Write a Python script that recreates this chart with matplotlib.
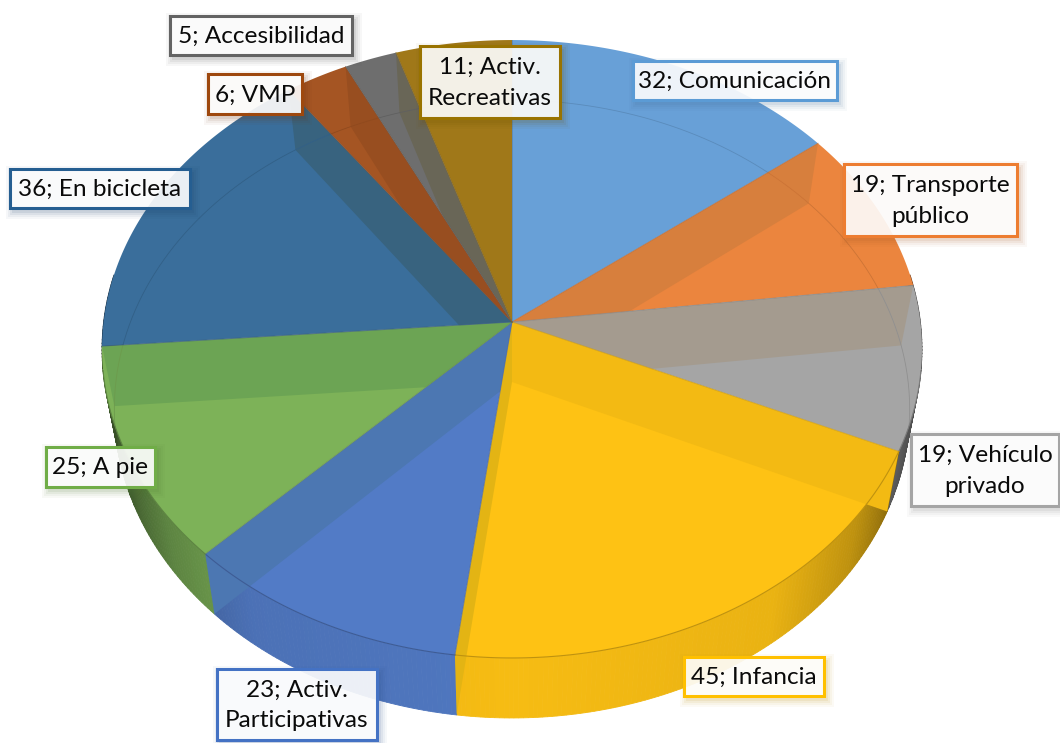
import numpy as np
import matplotlib
matplotlib.use('Agg')
import matplotlib.pyplot as plt
from matplotlib.patches import Polygon, Rectangle

plt.rcParams['font.family'] = ['Lato', 'DejaVu Sans']

values = [32, 19, 19, 45, 23, 25, 36, 6, 5, 11]
labels = ['32; Comunicación', '19; Transporte\npúblico', '19; Vehículo\nprivado',
          '45; Infancia', '23; Activ.\nParticipativas', '25; A pie',
          '36; En bicicleta', '6; VMP', '5; Accesibilidad', '11; Activ.\nRecreativas']
face_colors = ['#68a0d7', '#eb853e', '#a5a5a5', '#fec214', '#527bc6',
               '#7db258', '#3a6e9b', '#a55523', '#6e6e6e', '#a07819']
edge_colors = ['#5b9bd5', '#ed7d31', '#a5a5a5', '#ffc000', '#4472c4',
               '#70ad47', '#255e91', '#9e480e', '#636363', '#997300']

# label boxes, left right top bottom in pixels
boxes = [(632, 838, 60, 101), (843, 1018, 163, 237), (910, 1060, 433, 507),
         (683, 825, 656, 697), (216, 378, 668, 741), (45, 156, 446, 488),
         (9, 191, 168, 209), (207, 303, 73, 115), (169, 353, 15, 56),
         (419, 561, 45, 119)]

# projection of the disc
cx, cy = 512, 322
a, b, k = 408.4, 306.6, 0.0874
depth = 60
shrink = 0.97


def rim(theta):
    d = 1 + k * np.cos(theta)
    return cx + a * np.sin(theta) / d, cy - b * np.cos(theta) / d


def low_rim(theta):
    x, y = rim(theta)
    return cx + (x - cx) * shrink, y + depth


def rgb(c):
    return np.array(matplotlib.colors.to_rgb(c))


def mix(c1, c2, t):
    return rgb(c1) * (1 - t) + rgb(c2) * t


fig = plt.figure(figsize=(10.6, 7.43), dpi=100)
ax = fig.add_axes([0, 0, 1, 1])
ax.set_xlim(0, 1060)
ax.set_ylim(743, 0)
ax.axis('off')

cum = np.cumsum([0] + values) / sum(values) * 2 * np.pi

# outer wall, shaded towards the sides
for i in range(len(values)):
    lo, hi = max(cum[i], np.pi * 0.45), min(cum[i + 1], np.pi * 1.55)
    if hi <= lo:
        continue
    th = np.linspace(lo, hi, int((hi - lo) * 90) + 2)
    for t1, t2 in zip(th[:-1], th[1:]):
        x1, y1 = rim(t1)
        x2, y2 = rim(t2)
        x3, y3 = low_rim(t2)
        x4, y4 = low_rim(t1)
        side = abs(np.sin((t1 + t2) / 2))
        shade = np.interp(side, [0, 0.6, 0.8, 0.95, 1], [0.97, 0.92, 0.75, 0.5, 0.42])
        col = mix(face_colors[i], '#000000', 1 - shade)
        ax.add_patch(Polygon([(x1, y1), (x2, y2), (x3, y3), (x4, y4)], closed=True,
                             fc=col, ec=col, lw=0.6, zorder=1))

# top faces
sectors = []
wide_sectors = []
for i in range(len(values)):
    th = np.linspace(cum[i], cum[i + 1], int((cum[i + 1] - cum[i]) * 90) + 2)
    xs, ys = rim(th)
    pts = [(cx, cy)] + list(zip(xs, ys))
    wide = [(cx, cy)] + list(zip(cx + (xs - cx) * 1.3, cy + (ys - cy) * 1.3))
    ax.add_patch(Polygon(pts, closed=True, fc=face_colors[i], ec='none', zorder=2))
    sectors.append(Polygon(pts, closed=True, transform=ax.transData))
    wide_sectors.append(Polygon(wide, closed=True, transform=ax.transData))

# inner walls seen through the faces, colour multiplied by the neighbour slice
n = len(values)
for i in range(n - 1):
    t = cum[i + 1]
    other = i if np.sin(t) > 0 else i + 1
    lying = i + 1 if np.sin(t) > 0 else i
    col = rgb(face_colors[lying]) * rgb(face_colors[other]) ** 0.1
    x1, y1 = rim(t)
    x2, y2 = low_rim(t)
    strip = Polygon([(cx, cy), (x1, y1), (x2, y2), (cx, cy + depth)], closed=True,
                    fc=col, ec='none', zorder=3)
    ax.add_patch(strip)
    strip.set_clip_path(wide_sectors[lying])

# lower rim seen through the faces, top rim over the wall
th_all = np.linspace(0, 2 * np.pi, 720)
lx, ly = low_rim(th_all)
for i in range(n):
    line, = ax.plot(lx, ly, color=mix(face_colors[i], '#000000', 0.13), lw=0.6, zorder=4)
    line.set_clip_path(sectors[i])
    th = np.linspace(max(cum[i], np.pi * 0.55), min(cum[i + 1], np.pi * 1.45), 100)
    if cum[i + 1] > np.pi * 0.55 and cum[i] < np.pi * 1.45:
        xs, ys = rim(th)
        ax.plot(xs, ys, color=mix(face_colors[i], '#000000', 0.25), lw=0.8, zorder=4)

# separators between slices
for i in range(n):
    x1, y1 = rim(cum[i])
    ax.plot([cx, x1], [cy, y1], color=mix(face_colors[i], '#404040', 0.3), lw=0.7, alpha=0.7, zorder=5)

# labels
for label, box, ec in zip(labels, boxes, edge_colors):
    left, right, top, bottom = box
    for grow, alpha in [(6, 0.04), (4, 0.05), (2, 0.07), (0, 0.09)]:
        ax.add_patch(Rectangle((left + 3 - grow, top + 4 - grow), right - left + 2 * grow,
                               bottom - top + 2 * grow, fc=mix(ec, '#000000', 0.3),
                               ec='none', alpha=alpha, zorder=6))
    ax.add_patch(Rectangle((left + 1, top + 1), right - left - 2, bottom - top - 2,
                           fc=(1, 1, 1, 0.9), ec=ec, lw=2.2, zorder=7))
    ax.text((left + right) / 2, (top + bottom) / 2 + 1, label, ha='center', va='center',
            fontsize=17.6, color='#0a0a0a', linespacing=1.55, zorder=8)

fig.savefig('out.png', dpi=100)
